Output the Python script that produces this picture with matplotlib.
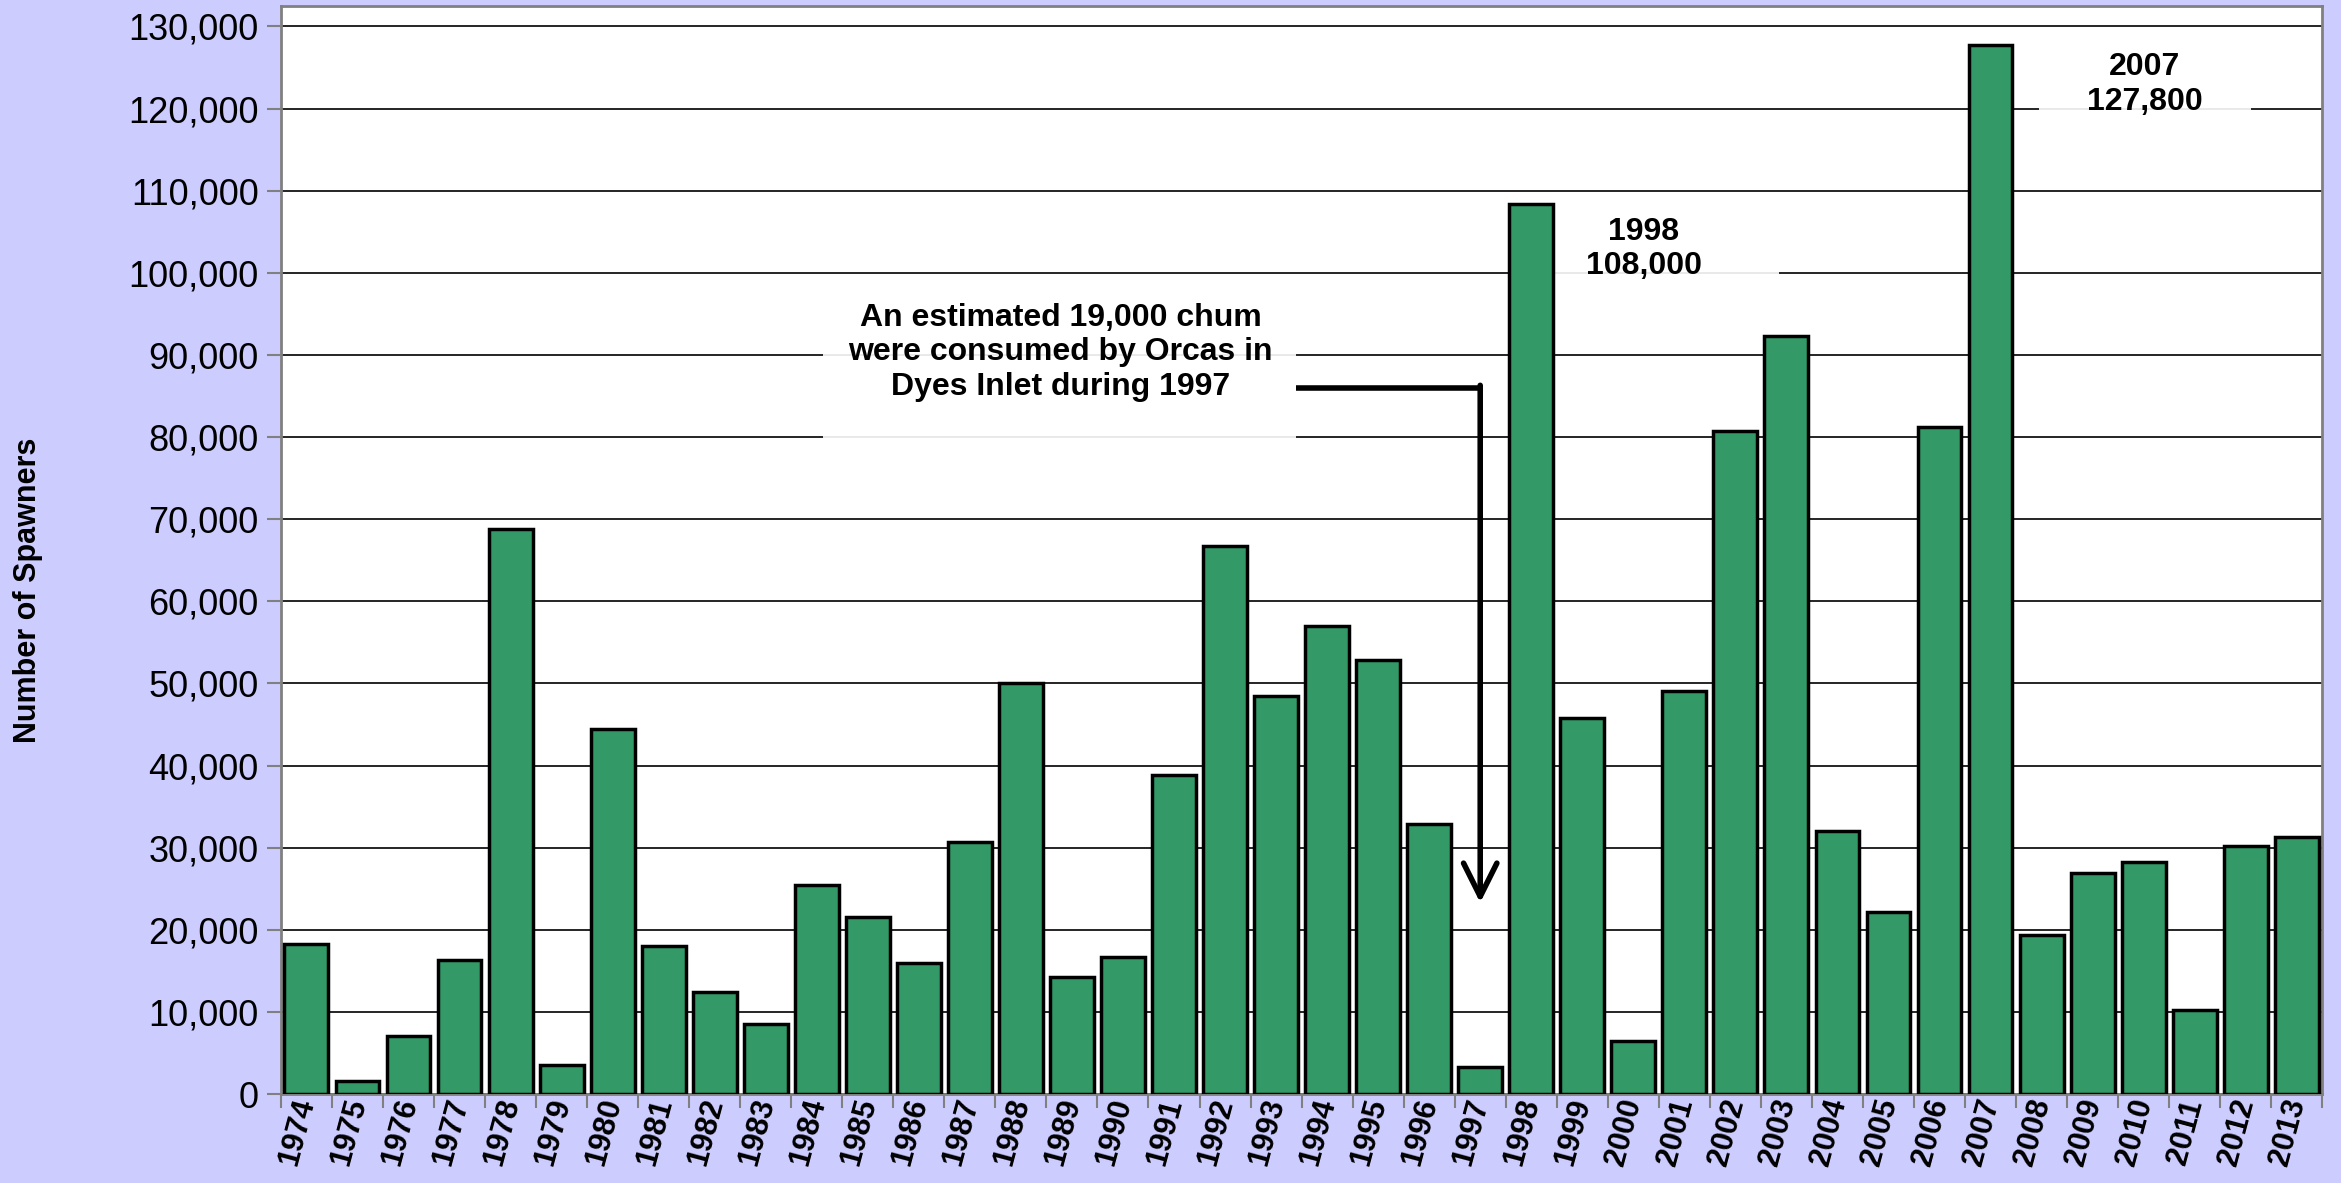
import numpy as np
import matplotlib.pyplot as plt
from matplotlib.patches import Rectangle
from matplotlib.ticker import FuncFormatter

plt.rcParams['font.family'] = ['Liberation Sans', 'DejaVu Sans']

years = [str(y) for y in range(1974, 2014)]
spawners = [18300, 1600, 7100, 16300, 68800, 3500, 44500, 18000, 12400, 8500,
            25400, 21600, 16000, 30700, 50000, 14200, 16700, 38900, 66700, 48500,
            57000, 52900, 32900, 3300, 108400, 45800, 6400, 49100, 80700, 92300,
            32000, 22200, 81200, 127800, 19400, 26900, 28300, 10200, 30200, 31300]

orca_note = "An estimated 19,000 chum\nwere consumed by Orcas in\nDyes Inlet during 1997"
peak_1998 = "1998\n108,000"
peak_2007 = "2007\n127,800"

fig = plt.figure(figsize=(23.41, 11.83), dpi=100, facecolor='#CCCCFF')
ax = fig.add_axes([0.120, 0.0752, 0.872, 0.9198])
ax.set_facecolor('white')

x = np.arange(len(years))
ax.bar(x, spawners, width=0.86, color='#339966', edgecolor='black',
       linewidth=2.5, zorder=3)

ax.set_xlim(-0.5, len(years) - 0.5)
ax.set_ylim(0, 132500)
ax.set_yticks(np.arange(0, 130001, 10000))
ax.yaxis.set_major_formatter(FuncFormatter(lambda v, p: f"{int(v):,}"))
ax.set_axisbelow(True)
ax.yaxis.grid(True, color='black', linewidth=1.2, zorder=0)

ax.set_xticks(x)
ax.set_xticklabels(years, rotation=75, fontsize=22, fontweight='bold',
                   ha='right', va='center', rotation_mode='anchor')
ax.set_xticks(np.arange(-0.5, len(years)), minor=True)
ax.tick_params(axis='x', which='major', length=0, pad=4)
ax.tick_params(axis='x', which='minor', length=10, width=1.5, color='#808080')
ax.tick_params(axis='y', labelsize=26, length=10, width=1.5, color='#808080', pad=6)

for s in ax.spines.values():
    s.set_color('#808080')
    s.set_linewidth(2)

ax.set_ylabel('Number of Spawners', fontsize=22, fontweight='bold')
ax.yaxis.set_label_coords(-0.1165, 0.463)

# white boxes behind notes
ax.add_patch(Rectangle((10.12, 79300), 9.28, 19400, facecolor='white',
                       alpha=0.9, edgecolor='none', zorder=1))
ax.add_patch(Rectangle((24.45, 98700), 4.4, 10600, facecolor='white',
                       alpha=0.9, edgecolor='none', zorder=1))
ax.add_patch(Rectangle((33.95, 117800), 4.15, 10500, facecolor='white',
                       alpha=0.9, edgecolor='none', zorder=1))

ax.text(14.78, 90300, orca_note, ha='center', va='center', fontsize=23,
        fontweight='bold', linespacing=1.2, zorder=4)
ax.text(26.2, 102900, peak_1998, ha='center', va='center', fontsize=23,
        fontweight='bold', linespacing=1.2, zorder=4)
ax.text(36.02, 122900, peak_2007, ha='center', va='center', fontsize=23,
        fontweight='bold', linespacing=1.2, zorder=4)

# arrow to 1997
ax.plot([19.4, 23], [86000, 86000], color='black', linewidth=4,
        solid_capstyle='butt', zorder=4)
ax.annotate('', xy=(23, 23300), xytext=(23, 86300),
            arrowprops=dict(arrowstyle='->,head_length=0.6,head_width=0.3',
                            lw=4, color='black', mutation_scale=40,
                            shrinkA=0, shrinkB=0), zorder=4)

fig.savefig('out.png', dpi=100, facecolor=fig.get_facecolor())
